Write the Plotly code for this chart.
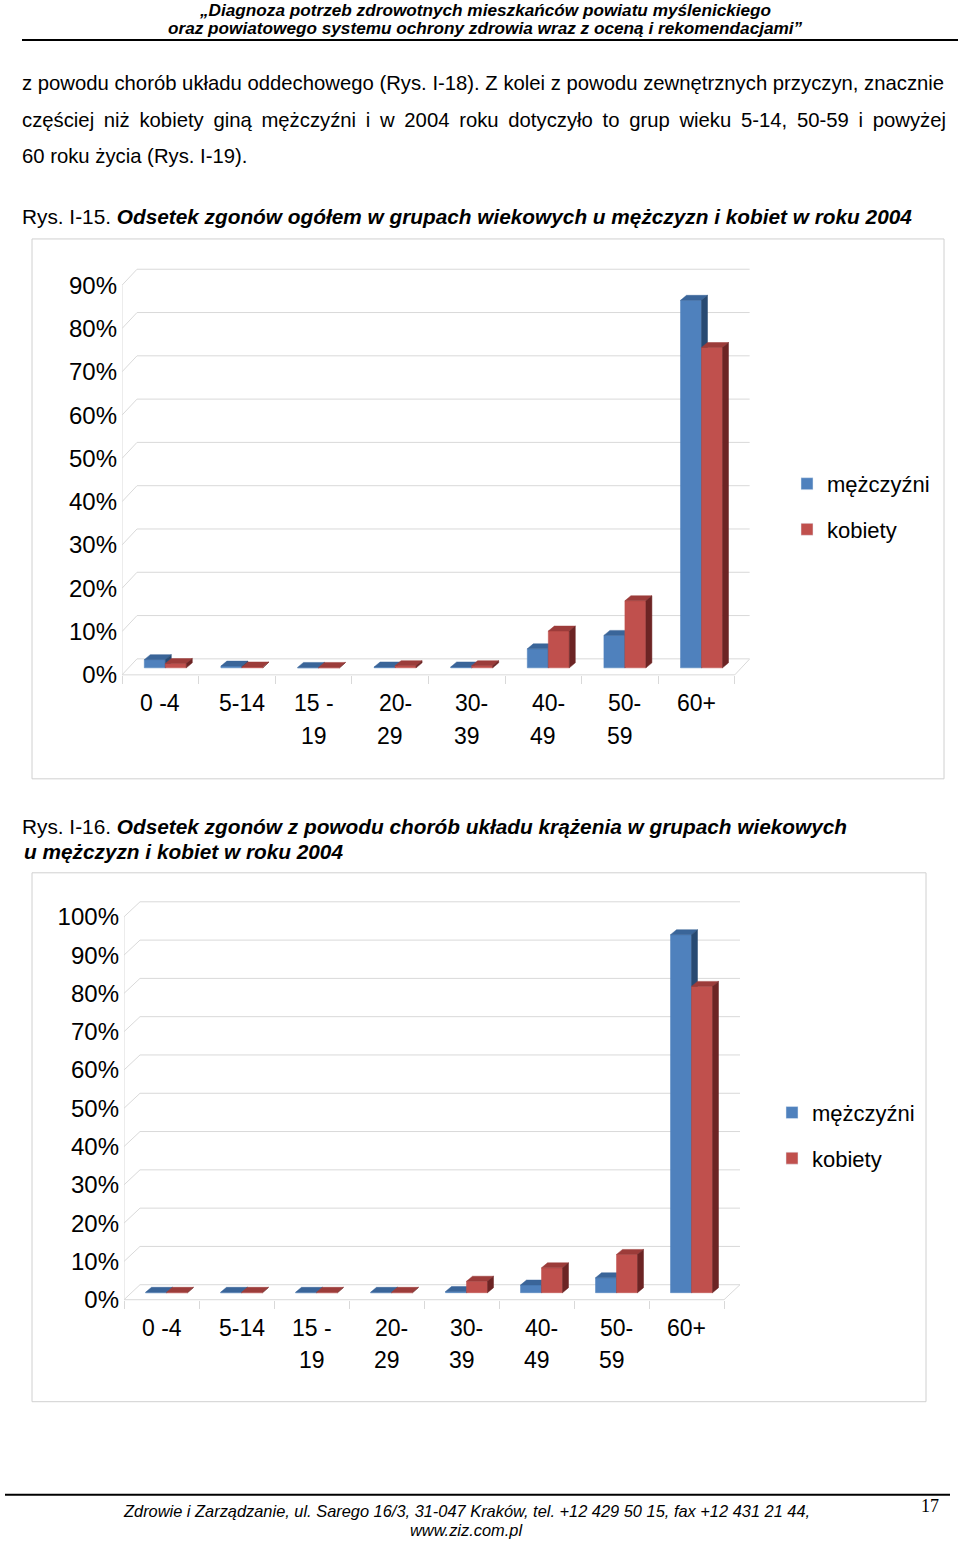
import plotly.graph_objects as go

W, H = 960, 1541
S = 1.005   # small vertical calibration so the photographed page lines up with the reference

# ---------------- data ----------------
cat_line1 = ["0 -4", "5-14", "15 -", "20-", "30-", "40-", "50-", "60+"]
cat_line2 = ["", "", "19", "29", "39", "49", "59", ""]
series_names = ["mężczyźni", "kobiety"]

# Rys. I-15: share of all deaths by age group (%)
men_total = [1.9, 0.4, 0.1, 0.2, 0.2, 4.4, 7.5, 84.9]
women_total = [1.0, 0.2, 0.1, 0.5, 0.5, 8.5, 15.5, 74.0]
# Rys. I-16: share of circulatory deaths by age group (%)
men_circ = [0.1, 0.1, 0.1, 0.1, 0.3, 2.0, 3.9, 93.5]
women_circ = [0.1, 0.1, 0.1, 0.1, 3.0, 6.5, 10.0, 80.0]

y1_ticks = list(range(0, 91, 10))
y2_ticks = list(range(0, 101, 10))

# ---------------- styles ----------------
FONT = "Liberation Sans"
BLUE = ["#4F81BD", "#3A6599", "#284A72"]   # front, top, side
RED = ["#C0504D", "#9C3C3A", "#6C2424"]
GRID = "#D9D9D9"

def pyp(p):
    return 1 - p * S / H

def pxp(p):
    return p / W

charts = [
    dict(men=men_total, women=women_total, ticks=y1_ticks, x0px=122, catpx=76.6,
         ypx=4.33 * S, zero=675, Dx=15, Dy=16, ytop=96, xa="x", ya="y",
         legend="legend", leg_x=787, leg_y=507, lab1=703, lab2=736),
    dict(men=men_circ, women=women_circ, ticks=y2_ticks, x0px=124, catpx=75.0,
         ypx=3.83 * S, zero=1300, Dx=16, Dy=15, ytop=106, xa="x2", ya="y2",
         legend="legend2", leg_x=772, leg_y=1136, lab1=1328, lab2=1360),
]

fig = go.Figure()
annotations = []
layout_axes = {}

BARW = 21   # px
FX, FY = 5, 7   # front-plane offset of bars inside floor depth (px)
BDX, BDY = 6, 5  # bar depth (px)

for k, c in enumerate(charts):
    n = len(cat_line1)
    cu = 1.0 / c["catpx"]
    yu = 1.0 / c["ypx"]
    Dxu, Dyu = c["Dx"] * cu, c["Dy"] * S * yu
    xa, ya = c["xa"], c["ya"]
    xmin, xmax = -0.5, n - 0.5 + Dxu
    ymin, ymax = -1.5, c["ytop"]

    gx, gy = [], []
    for t in c["ticks"]:
        gx += [xmin, xmin + Dxu, n - 0.5 + Dxu, None]
        gy += [t, t + Dyu, t + Dyu, None]
    gx += [xmin, n - 0.5, n - 0.5 + Dxu, None, xmin, xmin]
    gy += [0, 0, Dyu, None, 0, c["ticks"][-1]]
    fig.add_trace(go.Scatter(x=gx, y=gy, mode="lines", line=dict(color=GRID, width=1),
                             xaxis=xa, yaxis=ya, showlegend=False, hoverinfo="skip"))

    base = FY * S * yu
    for s, (vals, cols) in enumerate([(c["men"], BLUE), (c["women"], RED)]):
        off = -BARW if s == 0 else 0
        faces = {"front": ([], []), "top": ([], []), "side": ([], [])}
        ddx, ddy = BDX * cu, BDY * S * yu
        for i, v in enumerate(vals):
            xl = i + (FX + off) * cu
            xr = xl + BARW * cu
            t = base + v
            fxs, fys = faces["front"]
            fxs += [xl, xr, xr, xl, xl, None]
            fys += [base, base, t, t, base, None]
            txs, tys = faces["top"]
            txs += [xl, xr, xr + ddx, xl + ddx, xl, None]
            tys += [t, t, t + ddy, t + ddy, t, None]
            sxs, sys_ = faces["side"]
            sxs += [xr, xr + ddx, xr + ddx, xr, xr, None]
            sys_ += [base, base + ddy, t + ddy, t, base, None]
        for fi, face in enumerate(["front", "top", "side"]):
            fxv, fyv = faces[face]
            fig.add_trace(go.Scatter(x=fxv, y=fyv, mode="lines", fill="toself",
                                     fillcolor=cols[fi], line=dict(color=cols[fi], width=0.5),
                                     xaxis=xa, yaxis=ya, showlegend=False, hoverinfo="skip"))
        fig.add_trace(go.Bar(x=[None], y=[None], name=series_names[s], marker_color=cols[0],
                             xaxis=xa, yaxis=ya, legend=c["legend"], legendgroup=f"g{k}{s}"))

    for i in range(n):
        lab = cat_line1[i]
        shift = 5 if ("-" in lab and " " not in lab) else 0
        annotations.append(dict(x=i, y=pyp(c["lab1"]), xref=xa, yref="paper", xshift=shift,
                                text=lab, showarrow=False, xanchor="center",
                                yanchor="middle", font=dict(family=FONT, size=23, color="#000")))
        if cat_line2[i]:
            annotations.append(dict(x=i, y=pyp(c["lab2"]), xref=xa, yref="paper",
                                    text=cat_line2[i], showarrow=False, xanchor="center",
                                    yanchor="middle", font=dict(family=FONT, size=23, color="#000")))

    zero_px = c["zero"] * S
    dom_x = [pxp(c["x0px"]), pxp(c["x0px"] + (xmax - xmin) * c["catpx"])]
    dom_y = [1 - (zero_px - ymin * c["ypx"]) / H, 1 - (zero_px - ymax * c["ypx"]) / H]
    xkey = "xaxis" if k == 0 else "xaxis2"
    ykey = "yaxis" if k == 0 else "yaxis2"
    layout_axes[xkey] = dict(domain=dom_x, range=[xmin, xmax], anchor="free",
                             position=pyp(c["zero"]), showgrid=False, zeroline=False,
                             showline=False, tickvals=[j - 0.5 for j in range(n + 1)],
                             showticklabels=False, ticks="outside", ticklen=8,
                             tickcolor=GRID, tickwidth=1)
    layout_axes[ykey] = dict(domain=dom_y, range=[ymin, ymax], anchor=xa,
                             showgrid=False, zeroline=False, showline=False,
                             tickvals=c["ticks"], ticktext=[f"{t}%" for t in c["ticks"]],
                             ticks="", ticklabelstandoff=4,
                             tickfont=dict(family=FONT, size=24, color="#000"))
    layout_axes[c["legend"]] = dict(x=pxp(c["leg_x"]), y=pyp(c["leg_y"]), xanchor="left",
                                    yanchor="middle", font=dict(family=FONT, size=22, color="#000"),
                                    tracegroupgap=14, bgcolor="rgba(0,0,0,0)")

# ---------------- page text ----------------
def txt(x, y, text, size, xanchor="left", weight="normal", style="normal", family=FONT):
    annotations.append(dict(x=pxp(x), y=pyp(y), xref="paper", yref="paper", text=text,
                            showarrow=False, xanchor=xanchor, yanchor="middle",
                            font=dict(family=family, size=size, color="#000",
                                      weight=weight, style=style)))

TS = "\u2009"  # thin space used to widen the justified line
txt(485, 10, "„Diagnoza potrzeb zdrowotnych mieszkańców powiatu myślenickiego", 17.2,
    "center", "bold", "italic")
txt(485, 28, "oraz powiatowego systemu ochrony zdrowia wraz z oceną i rekomendacjami”", 17.2,
    "center", "bold", "italic")
txt(20, 83, "z powodu chorób układu oddechowego (Rys. I-18). Z kolei z powodu zewnętrznych przyczyn, znacznie", 20.3)
line2 = "częściej niż kobiety giną mężczyźni i w 2004 roku dotyczyło to grup wieku 5-14, 50-59 i powyżej"
txt(20, 120, line2.replace(" ", " " + TS), 20.3)
txt(20, 156, "60 roku życia (Rys. I-19).", 20.3)
txt(20, 217, "Rys. I-15. <b><i>Odsetek zgonów ogółem w grupach wiekowych u mężczyzn i kobiet w roku 2004</i></b>", 20.8)
txt(20, 827, "Rys. I-16. <b><i>Odsetek zgonów z powodu chorób układu krążenia w grupach wiekowych</i></b>", 20.8)
txt(22, 852, "<b><i>u mężczyzn i kobiet w roku 2004</i></b>", 20.8)
txt(466, 1511, "Zdrowie i Zarządzanie, ul. Sarego 16/3, 31-047 Kraków, tel. +12 429 50 15, fax +12 431 21 44,",
    16.4, "center", style="italic")
txt(466, 1530, "www.ziz.com.pl", 16.4, "center", style="italic")
txt(930, 1506, "17", 18, "center", family="Liberation Serif")

shapes = [
    dict(type="line", xref="paper", yref="paper", x0=pxp(22), x1=pxp(958), y0=pyp(40), y1=pyp(40),
         line=dict(color="#000", width=2)),
    dict(type="line", xref="paper", yref="paper", x0=pxp(5), x1=pxp(950), y0=pyp(1495), y1=pyp(1495),
         line=dict(color="#000", width=2)),
    dict(type="rect", xref="paper", yref="paper", x0=pxp(32), x1=pxp(944), y0=pyp(239), y1=pyp(779),
         line=dict(color="#D0D0D0", width=1)),
    dict(type="rect", xref="paper", yref="paper", x0=pxp(32), x1=pxp(926), y0=pyp(873), y1=pyp(1402),
         line=dict(color="#D0D0D0", width=1)),
]

fig.update_layout(width=W, height=H, margin=dict(l=0, r=0, t=0, b=0),
                  paper_bgcolor="white", plot_bgcolor="rgba(0,0,0,0)",
                  annotations=annotations, shapes=shapes, barmode="group",
                  hovermode=False, **layout_axes)

fig.write_html("out.html")
